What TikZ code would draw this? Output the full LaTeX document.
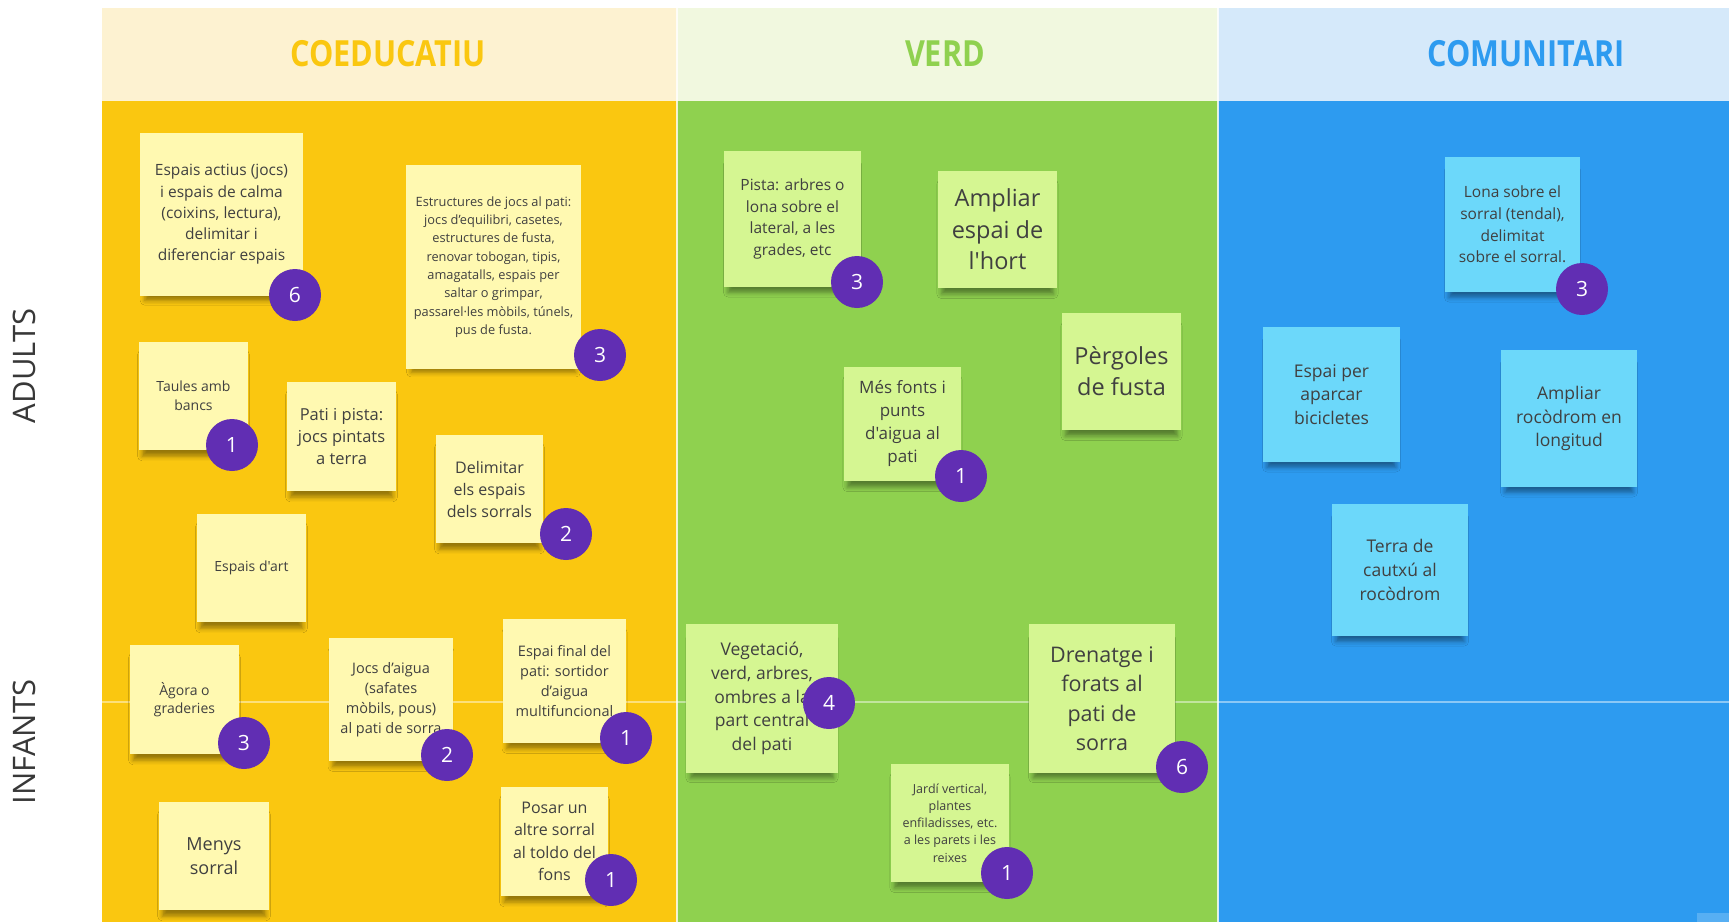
\documentclass[tikz,border=0pt]{standalone}
\usepackage{fontspec}
\newfontfamily\osans{Open Sans}
\usetikzlibrary{shadows.blur}
\definecolor{hyel}{HTML}{FDF2D1}
\definecolor{hgre}{HTML}{F1F8DF}
\definecolor{hblu}{HTML}{D5E9FA}
\definecolor{byel}{HTML}{FAC710}
\definecolor{bgre}{HTML}{8FD14F}
\definecolor{bblu}{HTML}{2D9BF0}
\definecolor{sy}{HTML}{FFF9B1}
\definecolor{sg}{HTML}{D5F692}
\definecolor{sb}{HTML}{6CD8FA}
\definecolor{stxt}{HTML}{404040}
\definecolor{badgec}{HTML}{612EB3}
\definecolor{lbl}{HTML}{383838}
\begin{document}
\begin{tikzpicture}[x=1pt,y=-1pt,
  fs/.style n args={2}{font=\osans\fontsize{#1}{#2}\selectfont},
  sticky/.style={rectangle, inner sep=0pt, text=stxt, align=center,
    blur shadow={shadow xshift=0pt, shadow yshift=-10pt, shadow opacity=40,
      shadow blur radius=5pt, shadow scale=0.94}},
  ysticky/.style={sticky, fill=sy},
  gsticky/.style={sticky, fill=sg},
  bsticky/.style={sticky, fill=sb},
  badge/.style={circle, fill=badgec, minimum size=52pt, inner sep=0pt,
    text=white, font=\osans\fontsize{21}{21}\selectfont},
  htext/.style={font=\osans\bfseries\fontsize{36}{38}\selectfont, inner sep=0pt},
  rowlabel/.style={font=\osans\fontsize{31}{34}\selectfont, text=lbl, rotate=90, inner sep=0pt},
  sep/.style={white, opacity=0.8, line width=1.3pt},
  hsep/.style={white, opacity=0.45, line width=2pt}
]
\useasboundingbox (0,0) rectangle (1729,922);
\fill[white] (0,0) rectangle (1729,922);
% header band
\fill[hyel] (102,8) rectangle (677,101);
\fill[hgre] (677,8) rectangle (1218,101);
\fill[hblu] (1218,8) rectangle (1729,101);
% body
\fill[byel] (102,101) rectangle (677,922);
\fill[bgre] (677,101) rectangle (1218,922);
\fill[bblu] (1218,101) rectangle (1729,922);
\fill[bblu!80!white] (1697,913) rectangle (1729,922);
% separators
\coordinate (hl1) at (102,702); \coordinate (hl2) at (1729,702);
\coordinate (v1a) at (677,8); \coordinate (v1b) at (677,922);
\coordinate (v2a) at (1218,8); \coordinate (v2b) at (1218,922);
\draw[hsep] (hl1) -- (hl2);
\draw[sep] (v1a) -- (v1b);
\draw[sep] (v2a) -- (v2b);
% headers
\node[htext, text=byel] (hcoe) at (388,54) {\scalebox{0.85}[1]{COEDUCATIU}};
\node[htext, text=bgre] (hver) at (945,54) {\scalebox{0.85}[1]{VERD}};
\node[htext, text=bblu] (hcom) at (1526,54) {\scalebox{0.85}[1]{COMUNITARI}};
% row labels
\node[rowlabel] (ladults) at (24,366) {ADULTS};
\node[rowlabel] (linfants) at (24,742) {INFANTS};

% COEDUCATIU stickies
\node[ysticky, minimum width=163pt, minimum height=163pt, fs={15.5}{21.3}] (sA) at (221.5,214.5)
  {Espais actius (jocs)\\ i espais de calma\\ (coixins, lectura),\\ delimitar i\\ diferenciar espais};
\node[ysticky, minimum width=175pt, minimum height=204pt, fs={12.8}{18.3}] (sB) at (493.5,267)
  {Estructures de jocs al pati:\\ jocs d’equilibri, casetes,\\ estructures de fusta,\\ renovar tobogan, tipis,\\ amagatalls, espais per\\ saltar o grimpar,\\ passarel·les mòbils, túnels,\\ pus de fusta.};
\node[ysticky, minimum width=109pt, minimum height=108pt, fs={14}{19}] (sC) at (193.5,396)
  {Taules amb\\ bancs};
\node[ysticky, minimum width=109pt, minimum height=109pt, fs={16.5}{22.3}] (sD) at (341.5,436.5)
  {Pati i pista:\\ jocs pintats\\ a terra};
\node[ysticky, minimum width=107pt, minimum height=108pt, fs={16}{22}] (sE) at (489.5,489)
  {Delimitar\\ els espais\\ dels sorrals};
\node[ysticky, minimum width=109pt, minimum height=108pt, fs={14}{19}] (sF) at (251.5,568)
  {Espais d'art};
\node[ysticky, minimum width=109pt, minimum height=109pt, fs={14}{18.5}] (sG) at (184.5,699.5)
  {Àgora o\\ graderies};
\node[ysticky, minimum width=124pt, minimum height=123pt, fs={14.5}{20}] (sH) at (391,699.5)
  {Jocs d’aigua\\ (safates\\ mòbils, pous)\\ al pati de sorra};
\node[ysticky, minimum width=123pt, minimum height=124pt, fs={14.5}{20}] (sI) at (564.5,681)
  {Espai final del\\ pati: sortidor\\ d’aigua\\ multifuncional};
\node[ysticky, minimum width=110pt, minimum height=108pt, fs={18}{23.5}] (sJ) at (214,856)
  {Menys\\ sorral};
\node[ysticky, minimum width=107pt, minimum height=109pt, fs={16}{22.5}] (sK) at (554.5,841.5)
  {Posar un\\ altre sorral\\ al toldo del\\ fons};

% VERD stickies
\node[gsticky, minimum width=137pt, minimum height=136pt, fs={15.5}{21.5}] (sL) at (792.5,219)
  {Pista: arbres o\\ lona sobre el\\ lateral, a les\\ grades, etc};
\node[gsticky, minimum width=119pt, minimum height=117pt, fs={23.5}{31.5}] (sM) at (997.5,229.5)
  {Ampliar\\ espai de\\ l'hort};
\node[gsticky, minimum width=119pt, minimum height=117pt, fs={23.5}{31}] (sN) at (1121.5,371.5)
  {Pèrgoles\\ de fusta};
\node[gsticky, minimum width=117pt, minimum height=114pt, fs={17}{23}] (sO) at (902.5,424)
  {Més fonts i\\ punts\\ d'aigua al\\ pati};
\node[gsticky, minimum width=152pt, minimum height=149pt, fs={17.5}{23.7}] (sP) at (762,698.5)
  {Vegetació,\\ verd, arbres,\\ ombres a la\\ part central\\ del pati};
\node[gsticky, minimum width=146pt, minimum height=149pt, fs={21.5}{29.5}] (sQ) at (1102,698.5)
  {Drenatge i\\ forats al\\ pati de\\ sorra};
\node[gsticky, minimum width=118pt, minimum height=118pt, fs={12.5}{17.2}] (sR) at (950,823)
  {Jardí vertical,\\ plantes\\ enfiladisses, etc.\\ a les parets i les\\ reixes};

% COMUNITARI stickies
\node[bsticky, minimum width=135pt, minimum height=135pt, fs={15.5}{21.8}] (sS) at (1512.5,224.5)
  {Lona sobre el\\ sorral (tendal),\\ delimitat\\ sobre el sorral.};
\node[bsticky, minimum width=137pt, minimum height=135pt, fs={17.5}{23.7}] (sT) at (1331.5,394.5)
  {Espai per\\ aparcar\\ bicicletes};
\node[bsticky, minimum width=136pt, minimum height=137pt, fs={17.5}{23.7}] (sU) at (1569,418.5)
  {Ampliar\\ rocòdrom en\\ longitud};
\node[bsticky, minimum width=136pt, minimum height=132pt, fs={17.5}{23.7}] (sV) at (1400,570)
  {Terra de\\ cautxú al\\ rocòdrom};

% badges
\node[badge] (bA) at (295,295) {6};
\node[badge] (bB) at (600,355) {3};
\node[badge] (bC) at (232,445) {1};
\node[badge] (bE) at (566,534) {2};
\node[badge] (bG) at (244,743) {3};
\node[badge] (bH) at (447,755) {2};
\node[badge] (bI) at (626,738) {1};
\node[badge] (bK) at (611,880) {1};
\node[badge] (bL) at (857,282) {3};
\node[badge] (bO) at (961,476) {1};
\node[badge] (bP) at (829,703) {4};
\node[badge] (bQ) at (1182,767) {6};
\node[badge] (bR) at (1007,873) {1};
\node[badge] (bS) at (1582,289) {3};
\end{tikzpicture}
\end{document}
